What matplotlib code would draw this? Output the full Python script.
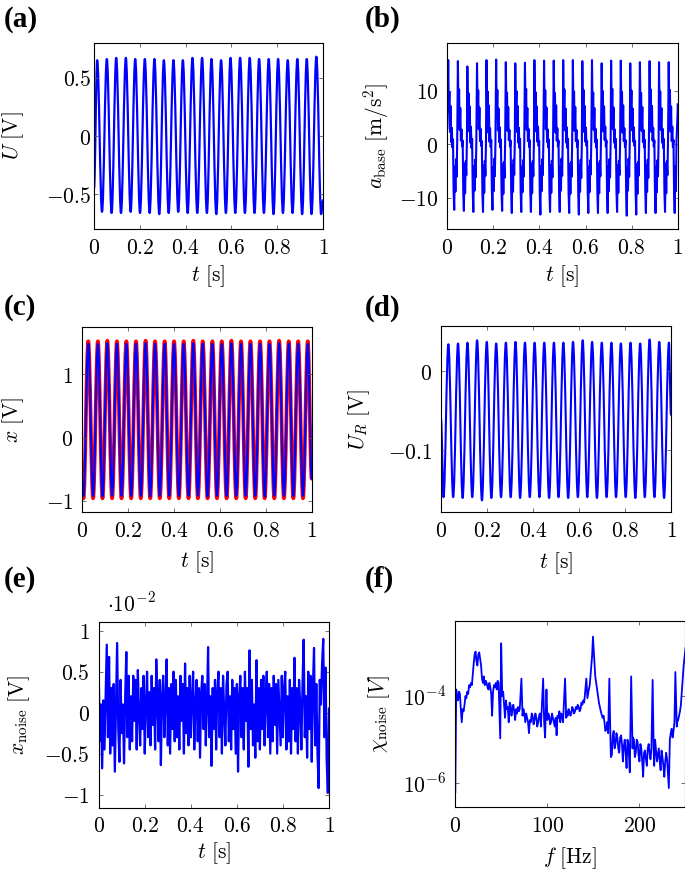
import numpy as np
import matplotlib
matplotlib.use('Agg')
import matplotlib.pyplot as plt
from matplotlib.path import Path
from matplotlib.patches import PathPatch
from matplotlib.ticker import FuncFormatter, NullLocator

plt.rcParams['mathtext.fontset'] = 'cm'
plt.rcParams['font.family'] = 'DejaVu Serif'
plt.rcParams['axes.unicode_minus'] = True

# ---- data ----
# (a) U [V]: extrema of the excitation voltage
a_peak_t = [0.014, 0.056, 0.097, 0.139, 0.180, 0.222, 0.264, 0.305, 0.347, 0.388, 0.430, 0.472,
            0.513, 0.555, 0.596, 0.638, 0.680, 0.721, 0.763, 0.804, 0.846, 0.888, 0.929, 0.971]
a_peak_v = [0.65, 0.66, 0.67, 0.67, 0.66, 0.66, 0.66, 0.65, 0.65, 0.65, 0.67, 0.67,
            0.66, 0.65, 0.67, 0.67, 0.67, 0.66, 0.66, 0.66, 0.65, 0.66, 0.66, 0.68]
a_trough_t = [0.035, 0.077, 0.118, 0.160, 0.201, 0.243, 0.285, 0.326, 0.368, 0.409, 0.451, 0.493,
              0.534, 0.576, 0.617, 0.659, 0.701, 0.742, 0.784, 0.825, 0.867, 0.909, 0.950, 0.992]
a_trough_v = [-0.65, -0.66, -0.66, -0.65, -0.66, -0.66, -0.67, -0.66, -0.65, -0.66, -0.66, -0.66,
              -0.67, -0.66, -0.66, -0.66, -0.66, -0.66, -0.67, -0.66, -0.66, -0.67, -0.67, -0.67]
a_ends = [(0.0, -0.45), (1.0, -0.55)]

# (b) a_base [m/s^2]: one row per excitation cycle, 16 samples each
b_spike_t = [0.004, 0.046, 0.087, 0.129, 0.170, 0.212, 0.254, 0.295, 0.337, 0.378, 0.420, 0.462,
             0.503, 0.545, 0.586, 0.628, 0.670, 0.711, 0.753, 0.794, 0.836, 0.878, 0.919, 0.961]
b_cycles = [
    [15.8, 6.2, 9.8, 2.3, 7.2, 0.4, 3.1, -0.6, 0.9, -8.8, -12.3, -4.2, -8.9, -2.8, -6.1, 0.6],
    [15.6, 5.8, 10.3, 2.7, 6.8, 0.7, 2.8, -0.4, 0.7, -9.2, -12.5, -3.8, -9.2, -3.2, -5.8, 0.4],
    [14.6, 6.1, 9.6, 2.4, 7.1, 0.3, 3.3, -0.7, 1.0, -8.9, -12.7, -4.1, -8.7, -2.9, -6.2, 0.5],
    [15.2, 5.9, 10.1, 2.8, 6.9, 0.6, 2.9, -0.3, 0.6, -9.3, -12.7, -3.9, -9.1, -3.1, -5.9, 0.7],
    [15.8, 6.3, 9.9, 2.2, 7.3, 0.5, 3.0, -0.5, 0.8, -8.7, -12.3, -4.3, -8.8, -2.7, -6.0, 0.5],
    [15.9, 5.7, 10.2, 2.6, 6.7, 0.4, 3.2, -0.6, 0.9, -9.1, -12.5, -3.7, -9.3, -3.3, -6.3, 0.4],
    [15.4, 6.0, 9.7, 2.5, 7.0, 0.8, 2.7, -0.4, 0.7, -9.0, -12.9, -4.0, -8.9, -2.9, -5.7, 0.6],
    [15.2, 6.2, 10.0, 2.3, 7.2, 0.3, 3.1, -0.7, 1.0, -8.8, -12.7, -4.2, -9.0, -3.0, -6.1, 0.5],
    [15.3, 5.8, 10.4, 2.7, 6.8, 0.6, 2.9, -0.5, 0.8, -9.2, -12.7, -3.8, -9.2, -3.2, -6.0, 0.7],
    [15.8, 6.1, 9.8, 2.4, 7.1, 0.5, 3.3, -0.3, 0.6, -9.4, -13.2, -4.1, -8.8, -2.8, -5.8, 0.4],
    [15.7, 5.9, 10.1, 2.8, 6.9, 0.4, 2.8, -0.6, 0.9, -8.9, -12.7, -3.9, -9.1, -3.1, -6.2, 0.6],
    [15.7, 6.3, 9.6, 2.2, 7.3, 0.7, 3.0, -0.4, 0.7, -9.1, -12.7, -4.3, -8.7, -2.7, -5.9, 0.5],
    [15.8, 5.7, 10.3, 2.6, 6.7, 0.3, 3.2, -0.7, 1.0, -9.0, -12.9, -3.7, -9.3, -3.3, -6.1, 0.5],
    [15.8, 6.0, 9.9, 2.5, 7.0, 0.6, 2.7, -0.5, 0.8, -9.3, -13.2, -4.0, -8.9, -2.9, -6.3, 0.4],
    [15.6, 6.2, 10.2, 2.3, 7.2, 0.5, 3.1, -0.3, 0.6, -8.8, -12.9, -4.2, -9.0, -3.0, -5.7, 0.6],
    [15.8, 5.8, 9.7, 2.7, 6.8, 0.4, 2.9, -0.6, 0.9, -9.2, -12.9, -3.8, -9.2, -3.2, -6.0, 0.7],
    [15.2, 6.1, 10.0, 2.4, 7.1, 0.8, 3.3, -0.4, 0.7, -8.9, -12.9, -4.1, -8.8, -2.8, -6.2, 0.5],
    [15.7, 5.9, 10.4, 2.8, 6.9, 0.3, 2.8, -0.7, 1.0, -9.1, -12.7, -3.9, -9.1, -3.1, -5.8, 0.4],
    [15.7, 6.3, 9.8, 2.2, 7.3, 0.6, 3.0, -0.5, 0.8, -9.4, -13.4, -4.3, -8.7, -2.7, -6.1, 0.6],
    [15.2, 5.7, 10.1, 2.6, 6.7, 0.5, 3.2, -0.3, 0.6, -9.0, -13.2, -3.7, -9.3, -3.3, -5.9, 0.5],
    [15.4, 6.0, 9.6, 2.5, 7.0, 0.4, 2.7, -0.6, 0.9, -8.8, -12.9, -4.0, -8.9, -2.9, -6.3, 0.7],
    [15.6, 6.2, 10.3, 2.3, 7.2, 0.7, 3.1, -0.4, 0.7, -9.2, -12.9, -4.2, -9.0, -3.0, -6.0, 0.4],
    [15.4, 5.8, 9.9, 2.7, 6.8, 0.3, 2.9, -0.7, 1.0, -8.9, -12.7, -3.8, -9.2, -3.2, -5.8, 0.6],
    [15.4, 6.1, 10.2, 2.4, 7.1, 0.6, 3.3, -0.5, 0.8, -9.1, -12.9, -4.1, -8.8, 0.5, 3.5, 6.5],
]
b_period = 0.0416
b_ends = [(0.0, 3.0), (1.0, 7.5)]

# (c) x [V]: red and blue responses
c_trough_t = [0.005, 0.047, 0.088, 0.130, 0.171, 0.213, 0.255, 0.296, 0.338, 0.379, 0.421, 0.463,
              0.504, 0.546, 0.587, 0.629, 0.671, 0.712, 0.754, 0.795, 0.837, 0.879, 0.920, 0.962]
c_peak_t = [0.026, 0.068, 0.109, 0.151, 0.192, 0.234, 0.276, 0.317, 0.359, 0.400, 0.442, 0.484,
            0.525, 0.567, 0.608, 0.650, 0.692, 0.733, 0.775, 0.816, 0.858, 0.900, 0.941, 0.983]
c_red_peak = [1.52, 1.52, 1.53, 1.52, 1.52, 1.52, 1.53, 1.52, 1.52, 1.52, 1.52, 1.53,
              1.52, 1.52, 1.52, 1.53, 1.52, 1.52, 1.52, 1.52, 1.53, 1.52, 1.52, 1.52]
c_red_trough = [-0.96, -0.96, -0.96, -0.96, -0.96, -0.96, -0.96, -0.96, -0.96, -0.96, -0.96, -0.96,
                -0.96, -0.96, -0.96, -0.96, -0.96, -0.96, -0.96, -0.96, -0.96, -0.96, -0.96, -0.96]
c_blue_peak = [1.48, 1.48, 1.49, 1.48, 1.48, 1.48, 1.49, 1.48, 1.48, 1.48, 1.48, 1.49,
               1.48, 1.48, 1.48, 1.49, 1.48, 1.48, 1.48, 1.48, 1.49, 1.48, 1.48, 1.48]
c_blue_trough = [-0.92, -0.92, -0.93, -0.92, -0.92, -0.92, -0.92, -0.93, -0.92, -0.92, -0.92, -0.92,
                 -0.92, -0.93, -0.92, -0.92, -0.92, -0.92, -0.92, -0.93, -0.92, -0.92, -0.92, -0.92]
c_ends = [(0.0, -0.7), (1.0, -0.65)]

# (d) U_R [V]
d_trough_t = [0.011, 0.053, 0.094, 0.136, 0.178, 0.219, 0.261, 0.303, 0.344, 0.386, 0.428, 0.470,
              0.511, 0.553, 0.595, 0.636, 0.678, 0.720, 0.761, 0.803, 0.845, 0.886, 0.928, 0.970]
d_trough_v = [-0.159, -0.159, -0.160, -0.159, -0.163, -0.160, -0.159, -0.159, -0.160, -0.159, -0.159, -0.160,
              -0.159, -0.160, -0.159, -0.159, -0.160, -0.159, -0.159, -0.159, -0.160, -0.159, -0.159, -0.160]
d_peak_t = [0.032, 0.074, 0.115, 0.157, 0.199, 0.240, 0.282, 0.324, 0.365, 0.407, 0.449, 0.491,
            0.532, 0.574, 0.616, 0.657, 0.699, 0.741, 0.782, 0.824, 0.866, 0.907, 0.949, 0.991]
d_peak_v = [0.034, 0.035, 0.036, 0.039, 0.037, 0.035, 0.036, 0.037, 0.036, 0.036, 0.036, 0.036,
            0.036, 0.037, 0.039, 0.037, 0.036, 0.036, 0.035, 0.036, 0.035, 0.040, 0.037, 0.036]
d_ends = [(0.0, -0.06), (1.0, -0.055)]

# (e) x_noise [1e-2 V], sampled every 5 ms
e_noise = [0.50, -0.35, 0.10, -0.68, 0.15, -0.45, 0.22, 0.83, -0.30, 0.68,
           -0.50, 0.30, -0.40, 0.35, -0.72, 0.10, 0.85, -0.20, -0.60, 0.40,
           -0.25, 0.10, -0.62, 0.20, 0.74, -0.30, 0.45, -0.45, 0.20, -0.35,
           0.45, -0.10, 0.40, -0.45, 0.52, 0.00, -0.40, 0.30, -0.20, 0.45,
           -0.50, 0.10, 0.50, -0.30, 0.25, -0.40, 0.45, -0.15, 0.30, -0.45,
           0.65, 0.10, -0.35, 0.40, -0.64, 0.20, 0.45, -0.30, 0.15, 0.65,
           -0.40, 0.30, -0.50, 0.35, -0.20, 0.50, -0.35, 0.40, -0.30, 0.20,
           -0.45, 0.45, -0.10, 0.35, -0.50, 0.60, -0.25, 0.30, -0.40, 0.45,
           -0.30, 0.20, 0.50, -0.45, 0.10, 0.40, -0.35, 0.30, -0.55, 0.25,
           0.45, -0.20, 0.35, -0.40, 0.10, 0.80, -0.30, 0.20, -0.65, 0.30,
           -0.20, 0.40, -0.45, 0.25, 0.50, -0.30, 0.30, -0.50, 0.45, 0.00,
           -0.40, 0.35, 0.50, -0.35, 0.20, -0.45, 0.40, -0.20, 0.30, -0.50,
           0.35, -0.72, 0.20, 0.45, -0.30, 0.30, -0.45, 0.50, -0.10, 0.30,
           -0.66, 0.76, -0.20, 0.40, -0.40, 0.10, -0.55, 0.64, -0.35, 0.30,
           -0.45, 0.40, -0.20, 0.45, -0.40, 0.20, 0.50, -0.30, 0.35, -0.50,
           0.30, -0.35, 0.45, -0.15, 0.35, -0.50, 0.40, 0.00, -0.40, 0.45,
           -0.30, 0.30, 0.50, -0.45, 0.20, -0.35, 0.40, -0.50, 0.30, -0.20,
           0.67, -0.35, 0.30, -0.50, 0.40, 0.10, -0.45, 0.35, 0.89, -0.30,
           0.20, -0.55, 0.50, -0.20, 0.45, -0.60, 0.30, 0.79, -0.40, 0.35,
           -0.50, -0.92, 0.40, 0.10, 0.60, 0.90, -0.30, 0.55, -0.60, -0.98,
           0.05]

# (f) spectrum of the noise: (frequency [Hz], log10 of amplitude [V])
f_spectrum = [
    (0, -6.2), (1, -3.85), (2, -4.0), (3, -4.1), (4, -3.9), (5, -3.95), (6, -4.3), (7, -4.6),
    (8, -4.3), (9, -4.35), (10, -4.2), (11, -4.0), (12, -4.05), (13, -3.9), (14, -3.95), (15, -3.75),
    (16, -3.8), (17, -3.7), (18, -3.75), (19, -3.5), (20, -3.25), (21, -3.05), (22, -2.98), (23, -3.2),
    (24, -3.3), (25, -3.05), (26, -3.0), (27, -3.15), (28, -3.3), (29, -3.6), (30, -3.7), (31, -3.55),
    (32, -3.75), (33, -3.65), (34, -3.7), (35, -3.8), (36, -3.85), (37, -3.7), (38, -3.8), (39, -3.95),
    (40, -4.45), (41, -3.9), (42, -3.75), (43, -3.8), (44, -3.7), (45, -3.85), (46, -3.65), (47, -3.7),
    (48.8, -4.97), (49.8, -2.79), (51, -4.0), (52, -3.9), (53, -4.2), (54, -4.5), (55, -4.1), (56, -4.3),
    (57, -4.25), (58, -4.6), (59, -4.15), (60, -4.2), (61, -4.45), (62, -4.3), (63, -4.2), (64, -4.35),
    (65, -4.55), (66, -4.3), (67, -4.4), (68, -4.25), (69, -4.35), (70, -4.3), (71.8, -3.6), (73, -4.45),
    (74, -4.3), (75, -4.4), (76, -4.6), (77, -4.4), (78, -4.5), (79, -4.6), (80, -4.85), (81, -4.55),
    (82, -4.6), (83, -4.4), (84, -4.45), (85, -4.65), (86, -4.55), (87, -4.4), (88, -4.5), (89, -4.7),
    (90, -4.6), (91, -4.45), (92, -4.4), (93, -4.7), (95.4, -3.6), (96.5, -4.6), (97.5, -4.95), (99, -3.85),
    (100, -4.55), (101, -4.4), (102, -4.45), (103, -4.65), (104, -4.6), (105, -4.4), (106, -4.5), (107, -4.6),
    (108, -4.7), (109, -4.5), (110, -4.9), (111, -4.45), (112, -4.5), (113, -4.35), (114, -4.6), (115, -4.4),
    (116, -4.45), (117, -4.6), (119.2, -3.6), (120.5, -4.5), (121, -4.35), (122, -4.45), (123, -4.3), (124, -4.35),
    (125, -4.45), (126, -4.4), (127, -4.25), (128, -4.3), (129, -4.4), (130, -4.35), (131, -4.25), (132, -4.3),
    (133, -4.2), (134, -4.25), (135, -4.35), (136, -4.3), (137, -4.15), (138, -4.2), (139, -4.1), (140, -4.15),
    (142.3, -3.6), (143.5, -4.05), (145, -3.85), (146, -3.75), (147, -3.5), (148.5, -3.1), (149.5, -2.64), (150.5, -3.0),
    (152, -3.55), (154, -3.85), (156, -4.15), (158, -4.35), (160, -4.5), (161, -4.45), (162, -4.6), (163, -4.8),
    (164, -4.75), (165, -4.6), (166, -4.85), (167.3, -3.6), (168.5, -5.0), (169, -5.4), (170, -5.35), (171, -4.9),
    (172, -4.8), (173, -5.2), (174, -5.1), (175, -4.85), (176, -4.95), (177, -5.2), (178, -5.3), (179, -4.95),
    (180, -4.9), (181, -5.1), (182, -5.5), (183, -5.15), (184, -5.0), (185, -5.3), (186, -5.65), (187, -5.0),
    (188, -5.1), (189.5, -5.75), (191, -3.55), (192.5, -5.2), (193, -4.95), (194, -5.0), (195, -5.4), (196, -5.3),
    (197, -5.0), (198, -5.05), (199, -5.35), (200, -5.5), (201, -5.1), (202, -5.2), (203, -5.5), (204, -5.85),
    (205, -5.3), (206, -5.25), (207, -5.45), (208, -5.6), (209, -5.2), (210, -5.1), (211, -5.3), (212, -5.45),
    (213, -5.2), (214.3, -3.63), (215.5, -5.3), (216, -5.6), (217, -5.0), (218, -5.25), (219, -5.5), (220, -5.35),
    (221, -5.2), (222, -5.5), (223, -5.7), (224, -5.25), (225, -5.4), (226, -5.6), (227, -5.85), (228, -5.5),
    (229, -5.3), (230, -5.45), (231.9, -6.11), (233, -5.0), (234, -4.85), (235, -4.75), (236, -4.95), (237, -4.8),
    (238, -4.6), (239, -3.45), (240.5, -4.7), (241, -4.6), (242, -4.55), (243, -4.45), (244, -4.35), (245, -4.2),
    (246, -3.9), (247, -3.6), (248, -3.3), (249, -3.1), (250, -2.9),
]

# ---- helpers ----
W, H = 685, 872
FS = 15.5
BLUE = (0, 0, 1)
RED = (1, 0, 0)


def merged(times, values, ends):
    t = np.concatenate([[ends[0][0]], *[np.asarray(x) for x in times], [ends[1][0]]])
    y = np.concatenate([[ends[0][1]], *[np.asarray(x) for x in values], [ends[1][1]]])
    order = np.argsort(t, kind='stable')
    return t[order], y[order]


def smooth_line(ax, t, y, color, lw):
    # smooth curve through the extrema (flat tangents, like a sine)
    verts = [(t[0], y[0])]
    codes = [Path.MOVETO]
    for i in range(1, len(t)):
        d = (t[i] - t[i - 1]) * 0.36
        verts += [(t[i - 1] + d, y[i - 1]), (t[i] - d, y[i]), (t[i], y[i])]
        codes += [Path.CURVE4] * 3
    ax.add_patch(PathPatch(Path(verts, codes), fill=False, edgecolor=color, lw=lw,
                           joinstyle='round', capstyle='round'))


def make_axes(fig, l, r, t, b):
    return fig.add_axes([l / W, 1 - b / H, (r - l) / W, (b - t) / H])


num_fmt = FuncFormatter(lambda v, p: '$%g$' % v)
log_fmt = FuncFormatter(lambda v, p: '$10^{%d}$' % round(np.log10(v)))


def style(ax, xlim, ylim, xticks, yticks, xlabel, ylabel, xlab_pos, ylab_pos, ypad=6.5):
    ax.set_xlim(*xlim)
    ax.set_ylim(*ylim)
    ax.set_xticks(xticks)
    ax.set_yticks(yticks)
    ax.xaxis.set_minor_locator(NullLocator())
    ax.yaxis.set_minor_locator(NullLocator())
    ax.xaxis.set_major_formatter(num_fmt)
    if ax.get_yscale() == 'log':
        ax.yaxis.set_major_formatter(log_fmt)
    else:
        ax.yaxis.set_major_formatter(num_fmt)
    ax.tick_params(direction='in', top=True, right=True, length=3.2, width=0.6,
                   color='0.35', labelsize=FS)
    ax.tick_params(axis='x', pad=5.5)
    ax.tick_params(axis='y', pad=ypad)
    for s in ax.spines.values():
        s.set_linewidth(0.8)
    ax.set_xlabel(xlabel, fontsize=FS)
    ax.set_ylabel(ylabel, fontsize=FS)
    ax.xaxis.label.set_va('center')
    ax.yaxis.label.set_va('center')
    ax.xaxis.set_label_coords(0.5, xlab_pos)
    ax.yaxis.set_label_coords(ylab_pos, 0.5)


fig = plt.figure(figsize=(W / 100, H / 100), dpi=100)
t_ticks = [0, 0.2, 0.4, 0.6, 0.8, 1]

# (a)
ax = make_axes(fig, 94, 323, 43, 229)
ta, ya = merged([a_peak_t, a_trough_t], [a_peak_v, a_trough_v], a_ends)
smooth_line(ax, ta, ya, BLUE, 1.6)
style(ax, (0, 1), (-0.797, 0.797), t_ticks, [-0.5, 0, 0.5],
      r'$t\ [\mathrm{s}]$', r'$U\ [\mathrm{V}]$', -0.256, -0.354, ypad=2)

# (b)
ax = make_axes(fig, 447.3, 677.7, 42.7, 229)
tb = [b_ends[0][0]]
yb = [b_ends[0][1]]
for s, row in zip(b_spike_t, b_cycles):
    for j, v in enumerate(row):
        tb.append(s + j * b_period / len(row))
        yb.append(v)
tb.append(b_ends[1][0])
yb.append(b_ends[1][1])
ax.plot(tb, yb, color=BLUE, lw=1.5, solid_joinstyle='round')
style(ax, (0, 1), (-15.9, 19.06), t_ticks, [-10, 0, 10],
      r'$t\ [\mathrm{s}]$', r'$a_{\mathrm{base}}\ [\mathrm{m/s^2}]$', -0.255, -0.309)

# (c)
ax = make_axes(fig, 82.3, 311.7, 326.7, 512.3)
tr, yr = merged([c_peak_t, c_trough_t], [c_red_peak, c_red_trough], c_ends)
tbl, ybl = merged([c_peak_t, c_trough_t], [c_blue_peak, c_blue_trough], c_ends)
smooth_line(ax, tr, yr, RED, 2.7)
smooth_line(ax, tbl, ybl, BLUE, 1.5)
style(ax, (0, 1), (-1.18, 1.75), t_ticks, [-1, 0, 1],
      r'$t\ [\mathrm{s}]$', r'$x\ [\mathrm{V}]$', -0.266, -0.301)

# (d)
ax = make_axes(fig, 441, 671, 326, 512.3)
td, yd = merged([d_peak_t, d_trough_t], [d_peak_v, d_trough_v], d_ends)
smooth_line(ax, td, yd, BLUE, 1.5)
style(ax, (0, 1), (-0.178, 0.057), t_ticks, [-0.1, 0],
      r'$t\ [\mathrm{s}]$', r'$U_R\ [\mathrm{V}]$', -0.272, -0.357)

# (e)
ax = make_axes(fig, 98.7, 329, 621.7, 807.7)
te = np.linspace(0, 1, len(e_noise))
ax.plot(te, e_noise, color=BLUE, lw=1.6, solid_joinstyle='round')
style(ax, (0, 1), (-1.16, 1.11), t_ticks, [-1, -0.5, 0, 0.5, 1],
      r'$t\ [\mathrm{s}]$', r'$x_{\mathrm{noise}}\ [\mathrm{V}]$', -0.242, -0.346)
ax.text(0.035, 1.09, r'$\cdot 10^{-2}$', transform=ax.transAxes, fontsize=FS,
        ha='left', va='center')

# (f)
ax = make_axes(fig, 455.3, 685.5, 621, 807.3)
ax.set_yscale('log')
f_hz = [p[0] for p in f_spectrum]
f_amp = [10.0 ** p[1] for p in f_spectrum]
ax.plot(f_hz, f_amp, color=BLUE, lw=1.3, solid_joinstyle='round')
style(ax, (0, 250), (10 ** -6.55, 10 ** -2.28), [0, 100, 200], [1e-6, 1e-4],
      r'$f\ [\mathrm{Hz}]$', r'$\chi_{\mathrm{noise}}\ [V]$', -0.272, -0.332)

# panel letters
for lab, x, y in [('(a)', 4, 6), ('(b)', 365, 6), ('(c)', 4, 294), ('(d)', 365, 295),
                  ('(e)', 4, 566), ('(f)', 365, 566)]:
    fig.text(x / W, 1 - y / H, lab, fontsize=21, fontweight='bold',
             family='Liberation Serif', ha='left', va='top')

fig.savefig('out.png', dpi=100)
